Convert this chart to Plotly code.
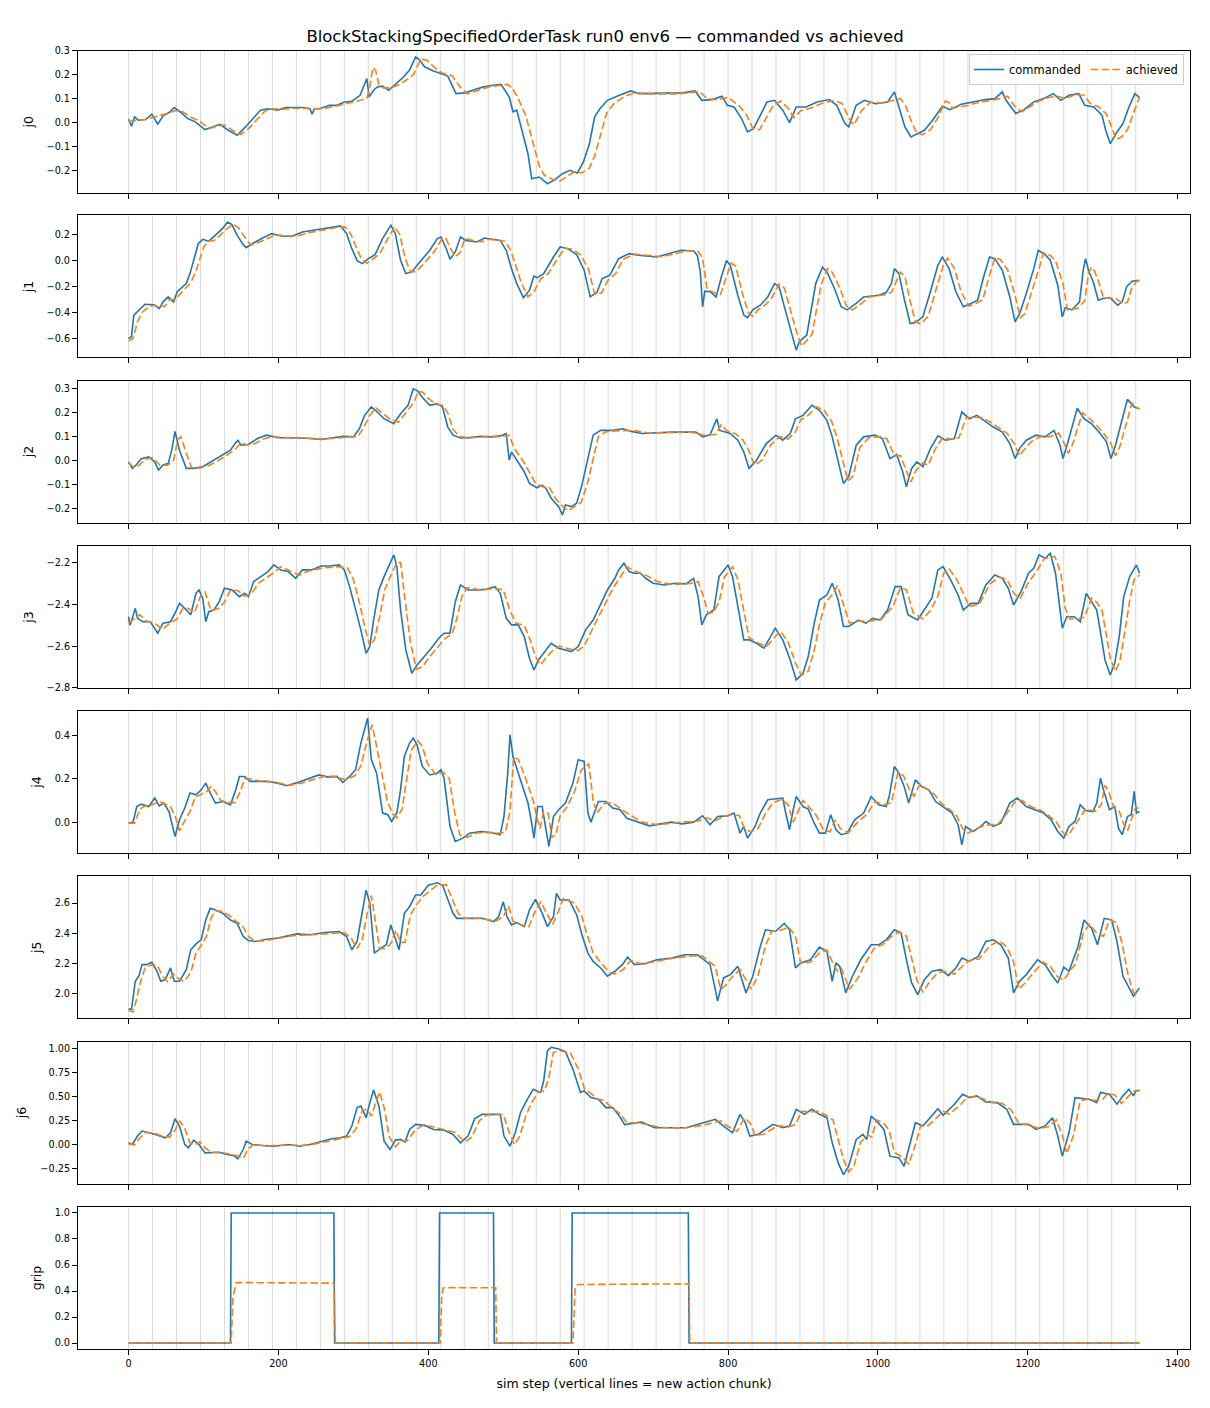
"""
Commanded vs achieved joint trajectories for one rollout.

One panel per joint (j0..j6) plus the gripper, sharing the sim-step axis.
Light vertical lines mark the steps where a new action chunk starts.
"""

import plotly.graph_objects as go
from plotly.subplots import make_subplots

TITLE = "BlockStackingSpecifiedOrderTask run0 env6 — commanded vs achieved"
X_LABEL = "sim step (vertical lines = new action chunk)"
SERIES_NAMES = ["commanded", "achieved"]

# steps where a new action chunk starts
CHUNK_STARTS = [0, 32, 64, 96, 128, 160, 192, 224, 256, 288, 320, 352, 384, 416,
                448, 480, 512, 544, 576, 608, 640, 672, 704, 736, 768, 800, 832,
                864, 896, 928, 960, 992, 1024, 1056, 1088, 1120, 1152, 1184, 1216,
                1248, 1280, 1312, 1344]

X_TICKS = [0, 200, 400, 600, 800, 1000, 1200, 1400]

# (sim step, value)
J0_CMD = [(0, 0.014), (4, -0.015), (8, 0.024), (13, 0.01), (23, 0.013), (31, 0.035), (39, -0.007),
          (46, 0.028), (54, 0.042), (61, 0.063), (69, 0.045), (79, 0.017), (89, 0.003), (102, -0.029),
          (112, -0.018), (122, -0.007), (133, -0.032), (145, -0.053), (156, -0.018), (166, 0.017),
          (176, 0.052), (186, 0.058), (199, 0.052), (209, 0.063), (222, 0.063), (232, 0.063),
          (242, 0.058), (245, 0.035), (248, 0.058), (255, 0.058), (268, 0.072), (278, 0.072),
          (288, 0.086), (298, 0.089), (309, 0.114), (318, 0.184), (321, 0.107), (327, 0.135),
          (332, 0.149), (339, 0.152), (347, 0.135), (357, 0.163), (367, 0.19), (375, 0.219),
          (383, 0.274), (388, 0.263), (395, 0.233), (406, 0.216), (416, 0.205), (426, 0.194),
          (437, 0.121), (449, 0.124), (462, 0.138), (474, 0.149), (487, 0.156), (497, 0.16),
          (508, 0.107), (513, 0.045), (518, 0.052), (525, -0.032), (533, -0.13), (538, -0.234),
          (548, -0.227), (559, -0.255), (569, -0.238), (579, -0.213), (589, -0.199), (599, -0.21),
          (607, -0.164), (615, -0.088), (622, 0.024), (629, 0.058), (639, 0.093), (655, 0.114),
          (670, 0.132), (681, 0.121), (696, 0.121), (712, 0.121), (727, 0.121), (740, 0.124),
          (756, 0.132), (765, 0.093), (779, 0.096), (792, 0.11), (799, 0.072), (808, 0.065),
          (818, 0.017), (826, -0.039), (834, -0.025), (842, 0.024), (852, 0.086), (862, 0.093),
          (873, 0.052), (882, 0.0), (891, 0.065), (904, 0.065), (919, 0.086), (935, 0.096),
          (945, 0.072), (956, -0.004), (961, -0.018), (971, 0.072), (982, 0.093), (997, 0.079),
          (1013, 0.086), (1022, 0.128), (1029, 0.052), (1036, -0.018), (1044, -0.06), (1052, -0.046),
          (1062, -0.032), (1073, 0.01), (1086, 0.068), (1096, 0.054), (1112, 0.077), (1127, 0.086),
          (1143, 0.096), (1156, 0.1), (1166, 0.128), (1171, 0.093), (1184, 0.038), (1195, 0.054),
          (1208, 0.086), (1221, 0.1), (1234, 0.121), (1244, 0.093), (1255, 0.114), (1268, 0.121),
          (1276, 0.072), (1288, 0.065), (1299, 0.031), (1304, -0.032), (1310, -0.088), (1319, -0.039),
          (1327, -0.004), (1335, 0.065), (1343, 0.121), (1349, 0.104)]
J0_ACH = [(0, 0.005), (10, 0.008), (20, 0.012), (30, 0.02), (40, 0.028), (52, 0.038), (62, 0.05),
          (72, 0.045), (85, 0.02), (95, 0.005), (108, -0.025), (118, -0.015), (128, -0.01),
          (140, -0.035), (150, -0.05), (162, -0.02), (172, 0.015), (182, 0.048), (192, 0.058),
          (205, 0.055), (220, 0.06), (240, 0.06), (260, 0.058), (275, 0.068), (290, 0.078),
          (300, 0.085), (312, 0.095), (318, 0.1), (322, 0.15), (326, 0.23), (330, 0.215),
          (334, 0.16), (340, 0.145), (350, 0.145), (362, 0.16), (372, 0.18), (380, 0.2),
          (390, 0.265), (398, 0.26), (410, 0.225), (420, 0.205), (432, 0.195), (442, 0.15),
          (452, 0.12), (465, 0.133), (480, 0.148), (495, 0.155), (505, 0.16), (512, 0.145),
          (520, 0.1), (530, 0.03), (540, -0.09), (548, -0.18), (555, -0.22), (565, -0.235),
          (575, -0.245), (585, -0.225), (595, -0.205), (605, -0.21), (615, -0.19), (622, -0.14),
          (630, -0.05), (638, 0.04), (648, 0.08), (662, 0.11), (677, 0.125), (690, 0.12),
          (705, 0.12), (720, 0.12), (735, 0.12), (750, 0.125), (762, 0.13), (772, 0.1),
          (785, 0.095), (800, 0.105), (806, 0.09), (815, 0.07), (825, 0.03), (833, -0.025),
          (842, -0.03), (850, 0.015), (860, 0.07), (870, 0.09), (880, 0.06), (888, 0.02),
          (897, 0.05), (910, 0.06), (925, 0.08), (942, 0.092), (952, 0.08), (962, 0.015),
          (968, -0.01), (978, 0.05), (990, 0.085), (1005, 0.082), (1018, 0.09), (1030, 0.1),
          (1037, 0.07), (1044, 0.01), (1052, -0.045), (1060, -0.05), (1070, -0.03), (1080, 0.02),
          (1090, 0.09), (1094, 0.085), (1100, 0.06), (1118, 0.07), (1133, 0.083), (1150, 0.092),
          (1163, 0.1), (1173, 0.11), (1182, 0.07), (1192, 0.045), (1202, 0.065), (1215, 0.09),
          (1228, 0.105), (1240, 0.11), (1250, 0.1), (1262, 0.115), (1275, 0.115), (1283, 0.08),
          (1295, 0.065), (1305, 0.035), (1312, -0.02), (1318, -0.07), (1325, -0.06), (1333, -0.03),
          (1341, 0.04), (1349, 0.105)]

J1_CMD = [(0, -0.6), (4, -0.587), (7, -0.42), (12, -0.39), (22, -0.336), (34, -0.34), (41, -0.37),
          (46, -0.318), (53, -0.28), (60, -0.32), (65, -0.24), (77, -0.177), (82, -0.1), (93, 0.13),
          (99, 0.164), (107, 0.149), (116, 0.2), (126, 0.25), (132, 0.297), (138, 0.277), (145, 0.195),
          (153, 0.123), (157, 0.1), (165, 0.13), (179, 0.174), (191, 0.208), (203, 0.19), (218, 0.187),
          (232, 0.22), (252, 0.238), (271, 0.259), (283, 0.267), (291, 0.208), (298, 0.092),
          (305, 0.0), (312, -0.023), (320, 0.015), (329, 0.046), (339, 0.17), (350, 0.272),
          (356, 0.208), (363, 0.0), (370, -0.1), (378, -0.087), (387, -0.023), (402, 0.08),
          (412, 0.17), (417, 0.182), (424, 0.092), (429, 0.01), (436, 0.067), (443, 0.182),
          (450, 0.156), (465, 0.144), (475, 0.174), (484, 0.164), (496, 0.156), (504, 0.08),
          (511, -0.06), (518, -0.177), (527, -0.287), (535, -0.228), (541, -0.118), (545, -0.133),
          (554, -0.1), (567, 0.028), (576, 0.105), (586, 0.092), (598, 0.046), (608, -0.074),
          (616, -0.279), (625, -0.246), (632, -0.138), (642, -0.113), (654, 0.015), (668, 0.054),
          (680, 0.041), (705, 0.028), (729, 0.067), (737, 0.08), (754, 0.074), (759, 0.04),
          (763, -0.087), (766, -0.356), (769, -0.236), (776, -0.24), (784, -0.28), (791, -0.126),
          (798, 0.0), (803, -0.036), (813, -0.267), (821, -0.42), (826, -0.44), (833, -0.38),
          (843, -0.344), (853, -0.28), (862, -0.177), (868, -0.2), (877, -0.395), (885, -0.56),
          (891, -0.69), (895, -0.626), (905, -0.574), (912, -0.344), (917, -0.177), (926, -0.05),
          (932, -0.087), (942, -0.215), (951, -0.356), (959, -0.38), (971, -0.33), (981, -0.28),
          (1001, -0.267), (1011, -0.246), (1018, -0.177), (1022, -0.062), (1028, -0.1),
          (1035, -0.292), (1043, -0.485), (1050, -0.477), (1060, -0.433), (1070, -0.24),
          (1080, -0.036), (1086, 0.028), (1095, -0.062), (1104, -0.24), (1114, -0.356),
          (1124, -0.33), (1133, -0.305), (1141, -0.126), (1149, 0.028), (1156, 0.015),
          (1166, -0.074), (1176, -0.28), (1183, -0.472), (1189, -0.41), (1198, -0.254),
          (1208, -0.062), (1214, 0.08), (1223, 0.046), (1230, 0.003), (1240, -0.19), (1246, -0.433),
          (1250, -0.364), (1259, -0.38), (1269, -0.318), (1274, -0.074), (1277, 0.015),
          (1281, -0.074), (1288, -0.177), (1294, -0.305), (1300, -0.292), (1310, -0.287),
          (1320, -0.344), (1326, -0.318), (1332, -0.2), (1339, -0.159), (1349, -0.151)]
J1_ACH = [(0, -0.62), (6, -0.6), (12, -0.47), (18, -0.4), (28, -0.35), (40, -0.345), (48, -0.355),
          (55, -0.3), (62, -0.3), (72, -0.24), (83, -0.17), (90, -0.08), (100, 0.1), (106, 0.15),
          (114, 0.155), (122, 0.195), (132, 0.25), (140, 0.28), (147, 0.25), (155, 0.18), (163, 0.12),
          (172, 0.135), (185, 0.17), (197, 0.2), (210, 0.19), (225, 0.19), (240, 0.215), (258, 0.235),
          (277, 0.255), (289, 0.26), (297, 0.2), (304, 0.1), (311, 0.01), (318, -0.02), (326, 0.015),
          (335, 0.05), (345, 0.16), (355, 0.26), (362, 0.2), (369, 0.02), (376, -0.085),
          (384, -0.085), (393, -0.03), (408, 0.07), (418, 0.165), (423, 0.175), (430, 0.09),
          (436, 0.03), (442, 0.06), (449, 0.17), (456, 0.16), (471, 0.145), (481, 0.165), (490, 0.16),
          (502, 0.15), (510, 0.08), (517, -0.05), (524, -0.17), (533, -0.28), (541, -0.24),
          (550, -0.14), (560, -0.1), (573, 0.02), (582, 0.095), (592, 0.09), (604, 0.04),
          (614, -0.07), (622, -0.26), (631, -0.25), (640, -0.15), (650, -0.1), (660, 0.01),
          (675, 0.05), (690, 0.04), (712, 0.03), (735, 0.06), (745, 0.075), (760, 0.07), (766, 0.02),
          (772, -0.22), (782, -0.25), (790, -0.26), (798, -0.13), (804, -0.02), (810, -0.04),
          (819, -0.25), (827, -0.4), (833, -0.43), (840, -0.38), (850, -0.34), (859, -0.28),
          (868, -0.18), (875, -0.21), (883, -0.38), (891, -0.54), (898, -0.66), (903, -0.63),
          (912, -0.57), (919, -0.35), (924, -0.19), (933, -0.06), (939, -0.09), (949, -0.21),
          (958, -0.35), (966, -0.38), (978, -0.33), (988, -0.28), (1008, -0.265), (1018, -0.245),
          (1025, -0.16), (1030, -0.09), (1036, -0.12), (1042, -0.29), (1050, -0.47), (1057, -0.49),
          (1067, -0.43), (1077, -0.24), (1087, -0.04), (1093, 0.02), (1102, -0.06), (1111, -0.24),
          (1121, -0.35), (1131, -0.33), (1140, -0.3), (1148, -0.13), (1156, 0.02), (1163, 0.01),
          (1173, -0.07), (1183, -0.27), (1190, -0.44), (1196, -0.41), (1205, -0.25), (1215, -0.06),
          (1221, 0.06), (1230, 0.04), (1237, 0.0), (1247, -0.18), (1253, -0.38), (1258, -0.37),
          (1266, -0.37), (1276, -0.31), (1281, -0.1), (1285, -0.05), (1289, -0.08), (1295, -0.17),
          (1301, -0.29), (1307, -0.29), (1317, -0.29), (1327, -0.335), (1333, -0.32), (1339, -0.21),
          (1345, -0.16), (1349, -0.155)]

J2_CMD = [(0, -0.006), (5, -0.033), (10, -0.019), (17, 0.008), (27, 0.015), (35, -0.006), (40, -0.04),
          (46, -0.019), (53, -0.013), (58, 0.05), (62, 0.122), (68, 0.043), (77, -0.033), (87, -0.033),
          (99, -0.026), (111, -0.003), (123, 0.019), (136, 0.043), (143, 0.075), (146, 0.085),
          (150, 0.064), (160, 0.067), (172, 0.092), (184, 0.106), (199, 0.096), (213, 0.096),
          (228, 0.094), (242, 0.092), (257, 0.088), (271, 0.094), (286, 0.101), (300, 0.099),
          (308, 0.133), (315, 0.189), (324, 0.224), (332, 0.203), (341, 0.175), (354, 0.154),
          (363, 0.196), (373, 0.231), (380, 0.3), (385, 0.293), (392, 0.265), (402, 0.231),
          (412, 0.238), (419, 0.224), (426, 0.14), (433, 0.106), (443, 0.094), (455, 0.096),
          (470, 0.101), (484, 0.099), (496, 0.103), (504, 0.113), (508, 0.001), (511, 0.036),
          (520, -0.006), (528, -0.047), (535, -0.096), (545, -0.114), (552, -0.103), (557, -0.117),
          (564, -0.158), (574, -0.193), (579, -0.228), (583, -0.186), (591, -0.193), (598, -0.179),
          (605, -0.103), (613, 0.008), (620, 0.106), (630, 0.126), (644, 0.126), (659, 0.133),
          (671, 0.122), (685, 0.113), (705, 0.117), (725, 0.119), (744, 0.119), (757, 0.119),
          (766, 0.099), (776, 0.108), (785, 0.175), (789, 0.126), (803, 0.113), (813, 0.085),
          (821, 0.036), (828, -0.033), (838, 0.001), (851, 0.071), (864, 0.106), (873, 0.085),
          (883, 0.113), (890, 0.175), (900, 0.189), (912, 0.231), (922, 0.21), (932, 0.168),
          (939, 0.099), (947, -0.006), (954, -0.096), (961, -0.068), (971, 0.064), (981, 0.099),
          (996, 0.106), (1006, 0.092), (1016, 0.008), (1025, 0.025), (1033, -0.047), (1038, -0.11),
          (1045, -0.033), (1052, -0.006), (1060, -0.026), (1070, 0.05), (1080, 0.103), (1090, 0.085),
          (1102, 0.092), (1112, 0.203), (1122, 0.175), (1132, 0.189), (1141, 0.168), (1154, 0.14),
          (1166, 0.119), (1176, 0.071), (1183, 0.008), (1189, 0.05), (1198, 0.085), (1211, 0.106),
          (1223, 0.099), (1235, 0.126), (1243, 0.064), (1247, 0.008), (1253, 0.071), (1260, 0.147),
          (1266, 0.219), (1275, 0.175), (1285, 0.154), (1295, 0.119), (1305, 0.078), (1311, 0.008),
          (1317, 0.064), (1325, 0.161), (1333, 0.256), (1342, 0.224), (1349, 0.217)]
J2_ACH = [(0, -0.01), (7, -0.03), (14, -0.02), (22, 0.005), (32, 0.012), (42, -0.02), (52, -0.02),
          (60, 0.0), (66, 0.09), (70, 0.1), (76, 0.04), (84, -0.03), (95, -0.032), (108, -0.02),
          (120, 0.0), (130, 0.02), (142, 0.045), (150, 0.075), (158, 0.065), (168, 0.07), (180, 0.09),
          (192, 0.1), (210, 0.096), (235, 0.094), (260, 0.09), (280, 0.094), (295, 0.1), (306, 0.1),
          (314, 0.14), (322, 0.19), (330, 0.22), (338, 0.2), (348, 0.175), (360, 0.16), (370, 0.2),
          (380, 0.24), (387, 0.29), (393, 0.285), (400, 0.26), (410, 0.235), (420, 0.23), (426, 0.2),
          (433, 0.13), (442, 0.1), (455, 0.095), (475, 0.1), (495, 0.1), (508, 0.105), (515, 0.05),
          (522, 0.02), (528, -0.01), (535, -0.05), (543, -0.095), (552, -0.11), (562, -0.115),
          (570, -0.16), (580, -0.195), (587, -0.21), (596, -0.19), (604, -0.175), (612, -0.1),
          (620, 0.0), (627, 0.1), (637, 0.12), (655, 0.125), (675, 0.125), (695, 0.115),
          (720, 0.117), (750, 0.119), (770, 0.105), (784, 0.11), (791, 0.15), (798, 0.125),
          (810, 0.112), (820, 0.085), (828, 0.04), (835, -0.02), (845, 0.0), (857, 0.065),
          (869, 0.1), (880, 0.09), (890, 0.12), (897, 0.17), (907, 0.19), (918, 0.225), (928, 0.21),
          (938, 0.165), (945, 0.1), (953, 0.0), (960, -0.085), (967, -0.065), (976, 0.055),
          (988, 0.095), (1003, 0.1), (1012, 0.09), (1022, 0.02), (1030, 0.02), (1038, -0.04),
          (1044, -0.09), (1051, -0.04), (1060, -0.01), (1067, -0.02), (1076, 0.045), (1086, 0.095),
          (1096, 0.09), (1108, 0.095), (1118, 0.18), (1128, 0.18), (1138, 0.18), (1148, 0.165),
          (1160, 0.14), (1172, 0.115), (1182, 0.07), (1189, 0.02), (1195, 0.045), (1205, 0.08),
          (1217, 0.1), (1230, 0.1), (1241, 0.115), (1249, 0.07), (1254, 0.03), (1260, 0.07),
          (1267, 0.14), (1273, 0.2), (1281, 0.18), (1291, 0.15), (1301, 0.115), (1311, 0.07),
          (1317, 0.02), (1323, 0.06), (1331, 0.15), (1339, 0.24), (1346, 0.22), (1349, 0.215)]

J3_CMD = [(0, -2.459), (2, -2.5), (5, -2.467), (9, -2.419), (12, -2.467), (19, -2.483), (29, -2.483),
          (39, -2.538), (46, -2.49), (56, -2.483), (63, -2.435), (68, -2.395), (75, -2.419),
          (83, -2.45), (90, -2.347), (94, -2.331), (99, -2.371), (103, -2.483), (107, -2.435),
          (114, -2.427), (121, -2.387), (128, -2.323), (138, -2.331), (148, -2.363), (155, -2.347),
          (160, -2.363), (167, -2.291), (177, -2.267), (186, -2.243), (194, -2.211), (203, -2.235),
          (213, -2.243), (223, -2.275), (232, -2.235), (244, -2.235), (257, -2.216), (269, -2.216),
          (281, -2.211), (288, -2.235), (295, -2.315), (302, -2.411), (310, -2.522), (317, -2.634),
          (322, -2.602), (327, -2.475), (334, -2.331), (341, -2.267), (349, -2.203), (354, -2.163),
          (358, -2.219), (363, -2.427), (370, -2.618), (378, -2.73), (385, -2.69), (395, -2.65),
          (404, -2.61), (414, -2.562), (421, -2.538), (429, -2.538), (436, -2.387), (443, -2.307),
          (453, -2.331), (465, -2.331), (477, -2.328), (489, -2.315), (496, -2.347), (504, -2.467),
          (511, -2.498), (520, -2.498), (528, -2.554), (535, -2.658), (541, -2.714), (547, -2.666),
          (557, -2.618), (564, -2.586), (574, -2.61), (583, -2.618), (591, -2.626), (600, -2.602),
          (610, -2.522), (620, -2.475), (630, -2.395), (639, -2.331), (649, -2.275), (654, -2.235),
          (661, -2.203), (668, -2.243), (675, -2.251), (683, -2.251), (690, -2.275), (700, -2.299),
          (715, -2.307), (729, -2.299), (744, -2.302), (754, -2.275), (760, -2.363), (765, -2.498),
          (771, -2.45), (781, -2.427), (788, -2.267), (800, -2.211), (806, -2.267), (813, -2.411),
          (821, -2.57), (828, -2.57), (838, -2.586), (848, -2.61), (858, -2.546), (863, -2.514),
          (873, -2.57), (883, -2.666), (891, -2.762), (900, -2.73), (907, -2.65), (915, -2.49),
          (922, -2.379), (932, -2.355), (939, -2.299), (947, -2.379), (954, -2.506), (961, -2.506),
          (974, -2.475), (984, -2.49), (993, -2.467), (1003, -2.475), (1013, -2.427), (1023, -2.315),
          (1031, -2.315), (1040, -2.45), (1053, -2.475), (1062, -2.427), (1072, -2.371),
          (1080, -2.235), (1087, -2.219), (1097, -2.283), (1107, -2.355), (1114, -2.427),
          (1124, -2.395), (1134, -2.395), (1144, -2.307), (1156, -2.259), (1166, -2.275),
          (1174, -2.323), (1181, -2.403), (1191, -2.339), (1201, -2.251), (1208, -2.227),
          (1215, -2.163), (1223, -2.179), (1230, -2.155), (1237, -2.251), (1242, -2.411),
          (1246, -2.514), (1252, -2.459), (1262, -2.459), (1270, -2.483), (1278, -2.347),
          (1285, -2.387), (1292, -2.427), (1298, -2.554), (1303, -2.666), (1310, -2.738),
          (1316, -2.682), (1322, -2.554), (1328, -2.363), (1336, -2.267), (1341, -2.235),
          (1345, -2.211), (1349, -2.251)]
J3_ACH = [(0, -2.49), (8, -2.47), (15, -2.45), (24, -2.48), (35, -2.49), (45, -2.52), (55, -2.49),
          (65, -2.47), (72, -2.42), (80, -2.42), (88, -2.44), (96, -2.36), (102, -2.34), (110, -2.43),
          (120, -2.42), (128, -2.39), (136, -2.33), (146, -2.335), (155, -2.36), (164, -2.35),
          (173, -2.3), (185, -2.27), (195, -2.245), (203, -2.22), (215, -2.24), (228, -2.26),
          (240, -2.24), (260, -2.225), (280, -2.22), (292, -2.225), (300, -2.28), (308, -2.39),
          (316, -2.52), (322, -2.6), (328, -2.57), (335, -2.46), (342, -2.33), (350, -2.26),
          (358, -2.2), (363, -2.2), (368, -2.35), (376, -2.58), (384, -2.71), (392, -2.7),
          (402, -2.65), (412, -2.61), (422, -2.565), (432, -2.54), (438, -2.47), (445, -2.36),
          (452, -2.32), (470, -2.33), (490, -2.325), (500, -2.33), (509, -2.43), (517, -2.49),
          (528, -2.5), (536, -2.57), (543, -2.65), (550, -2.69), (556, -2.66), (566, -2.62),
          (575, -2.6), (590, -2.615), (600, -2.62), (608, -2.6), (617, -2.53), (627, -2.46),
          (637, -2.39), (647, -2.32), (656, -2.27), (665, -2.22), (675, -2.24), (690, -2.26),
          (705, -2.29), (725, -2.305), (750, -2.3), (760, -2.29), (767, -2.36), (773, -2.44),
          (780, -2.44), (788, -2.39), (795, -2.27), (806, -2.22), (813, -2.28), (820, -2.42),
          (828, -2.56), (840, -2.585), (852, -2.6), (864, -2.55), (870, -2.53), (880, -2.58),
          (890, -2.68), (898, -2.74), (907, -2.72), (915, -2.62), (923, -2.48), (930, -2.39),
          (940, -2.35), (946, -2.31), (953, -2.39), (962, -2.49), (975, -2.48), (990, -2.48),
          (1005, -2.47), (1020, -2.41), (1030, -2.32), (1038, -2.33), (1047, -2.44), (1060, -2.47),
          (1070, -2.43), (1080, -2.36), (1088, -2.25), (1095, -2.23), (1105, -2.28), (1114, -2.35),
          (1122, -2.41), (1135, -2.4), (1150, -2.3), (1162, -2.27), (1172, -2.28), (1182, -2.35),
          (1190, -2.37), (1200, -2.3), (1212, -2.24), (1222, -2.18), (1236, -2.17), (1244, -2.25),
          (1250, -2.42), (1256, -2.47), (1268, -2.47), (1276, -2.46), (1285, -2.37), (1292, -2.39),
          (1299, -2.43), (1305, -2.55), (1310, -2.66), (1317, -2.72), (1323, -2.67), (1330, -2.52),
          (1336, -2.38), (1342, -2.28), (1349, -2.26)]

J4_CMD = [(0, -0.005), (6, 0.0), (11, 0.072), (17, 0.083), (27, 0.072), (35, 0.111), (41, 0.075),
          (47, 0.088), (54, 0.049), (62, -0.066), (68, 0.011), (75, 0.065), (82, 0.134), (90, 0.126),
          (97, 0.149), (103, 0.18), (109, 0.134), (116, 0.088), (126, 0.095), (136, 0.08),
          (143, 0.149), (148, 0.211), (155, 0.211), (162, 0.188), (174, 0.188), (186, 0.188),
          (199, 0.18), (211, 0.168), (223, 0.18), (237, 0.198), (254, 0.218), (266, 0.208),
          (278, 0.211), (286, 0.183), (295, 0.211), (303, 0.242), (310, 0.365), (319, 0.48),
          (324, 0.288), (331, 0.226), (339, 0.042), (346, 0.034), (351, 0.003), (358, 0.042),
          (363, 0.149), (368, 0.303), (375, 0.365), (380, 0.388), (385, 0.357), (392, 0.257),
          (402, 0.218), (412, 0.226), (417, 0.242), (421, 0.203), (429, -0.02), (436, -0.089),
          (446, -0.074), (455, -0.051), (470, -0.043), (484, -0.048), (496, -0.058), (501, 0.026),
          (506, 0.226), (509, 0.403), (513, 0.303), (523, 0.195), (533, 0.088), (538, -0.005),
          (541, -0.074), (546, 0.072), (552, 0.072), (557, -0.035), (561, -0.112), (567, 0.026),
          (574, 0.057), (583, 0.088), (593, 0.18), (600, 0.288), (608, 0.28), (613, 0.042),
          (617, 0.0), (627, 0.095), (637, 0.095), (646, 0.065), (656, 0.057), (665, 0.018),
          (680, 0.0), (695, -0.017), (710, -0.008), (725, 0.0), (739, -0.008), (754, 0.0),
          (766, 0.029), (776, -0.012), (786, 0.026), (799, 0.029), (808, 0.042), (816, -0.051),
          (821, -0.02), (826, -0.074), (836, -0.02), (843, 0.042), (853, 0.103), (863, 0.106),
          (873, 0.111), (877, 0.042), (882, -0.035), (887, 0.057), (891, 0.118), (900, 0.072),
          (907, 0.06), (915, -0.005), (922, -0.051), (930, -0.051), (937, 0.034), (944, -0.035),
          (951, -0.058), (959, -0.051), (969, 0.011), (981, 0.042), (991, 0.118), (1001, 0.08),
          (1011, 0.072), (1015, 0.118), (1022, 0.257), (1028, 0.226), (1035, 0.165), (1041, 0.088),
          (1050, 0.195), (1058, 0.165), (1068, 0.149), (1077, 0.095), (1087, 0.072), (1099, 0.042),
          (1107, -0.012), (1112, -0.105), (1117, -0.02), (1127, -0.043), (1137, -0.02), (1144, 0.003),
          (1154, -0.02), (1164, -0.005), (1176, 0.088), (1186, 0.111), (1198, 0.072), (1211, 0.057),
          (1221, 0.042), (1231, 0.011), (1240, -0.043), (1248, -0.074), (1255, -0.02), (1263, 0.003),
          (1270, 0.08), (1277, 0.054), (1287, 0.049), (1292, 0.088), (1297, 0.203), (1301, 0.149),
          (1309, 0.057), (1316, 0.072), (1321, -0.028), (1326, -0.058), (1333, 0.026), (1338, 0.034),
          (1342, 0.142), (1345, 0.042), (1349, 0.049)]
J4_ACH = [(0, -0.005), (8, -0.005), (15, 0.06), (22, 0.075), (32, 0.08), (40, 0.095), (48, 0.085),
          (56, 0.07), (62, 0.03), (68, -0.04), (74, 0.0), (82, 0.05), (89, 0.115), (97, 0.13),
          (104, 0.14), (110, 0.165), (116, 0.14), (123, 0.1), (133, 0.09), (142, 0.09), (149, 0.14),
          (155, 0.2), (162, 0.2), (175, 0.19), (195, 0.185), (215, 0.17), (230, 0.18), (245, 0.195),
          (262, 0.212), (275, 0.21), (290, 0.195), (302, 0.215), (310, 0.26), (318, 0.37),
          (325, 0.45), (331, 0.35), (337, 0.24), (345, 0.1), (352, 0.04), (358, 0.02), (365, 0.06),
          (371, 0.2), (377, 0.33), (386, 0.375), (392, 0.35), (399, 0.27), (410, 0.22), (420, 0.23),
          (428, 0.2), (435, 0.05), (442, -0.06), (452, -0.07), (465, -0.05), (480, -0.048),
          (495, -0.052), (503, -0.045), (509, 0.05), (514, 0.3), (520, 0.29), (530, 0.2), (540, 0.1),
          (545, 0.02), (549, -0.03), (554, 0.05), (560, 0.04), (565, -0.07), (570, -0.06),
          (576, 0.03), (585, 0.07), (595, 0.14), (604, 0.24), (614, 0.27), (620, 0.1), (625, 0.04),
          (634, 0.085), (645, 0.09), (655, 0.065), (668, 0.035), (685, 0.0), (705, -0.012),
          (730, -0.003), (760, 0.005), (772, 0.02), (782, 0.005), (793, 0.025), (806, 0.035),
          (815, 0.03), (822, -0.03), (830, -0.045), (840, -0.03), (850, 0.04), (860, 0.09),
          (872, 0.105), (880, 0.08), (887, 0.0), (893, 0.05), (900, 0.1), (908, 0.07), (918, 0.03),
          (927, -0.035), (936, -0.045), (943, 0.01), (950, -0.03), (960, -0.05), (973, 0.0),
          (985, 0.035), (996, 0.095), (1008, 0.08), (1018, 0.09), (1027, 0.23), (1034, 0.215),
          (1042, 0.15), (1048, 0.12), (1056, 0.175), (1065, 0.155), (1075, 0.13), (1085, 0.085),
          (1095, 0.06), (1105, 0.03), (1113, -0.03), (1120, -0.05), (1130, -0.035), (1142, -0.015),
          (1160, -0.01), (1170, 0.03), (1182, 0.09), (1192, 0.1), (1205, 0.07), (1217, 0.055),
          (1228, 0.03), (1238, 0.0), (1247, -0.05), (1254, -0.06), (1262, -0.02), (1270, 0.02),
          (1277, 0.06), (1290, 0.05), (1298, 0.08), (1303, 0.17), (1308, 0.14), (1315, 0.065),
          (1322, 0.05), (1328, -0.01), (1333, -0.04), (1339, 0.02), (1344, 0.07), (1349, 0.06)]

J5_CMD = [(0, 1.901), (4, 1.897), (9, 2.083), (14, 2.12), (18, 2.193), (24, 2.193), (31, 2.208),
          (38, 2.149), (43, 2.083), (49, 2.094), (56, 2.171), (61, 2.083), (68, 2.083), (77, 2.16),
          (83, 2.291), (91, 2.335), (97, 2.357), (103, 2.488), (109, 2.565), (116, 2.554),
          (126, 2.532), (136, 2.488), (145, 2.466), (153, 2.379), (160, 2.352), (169, 2.346),
          (184, 2.361), (199, 2.368), (213, 2.383), (225, 2.396), (242, 2.39), (262, 2.405),
          (281, 2.412), (291, 2.379), (298, 2.291), (305, 2.346), (310, 2.488), (317, 2.685),
          (322, 2.598), (328, 2.269), (337, 2.302), (344, 2.324), (350, 2.455), (356, 2.368),
          (361, 2.291), (368, 2.532), (375, 2.576), (383, 2.653), (390, 2.653), (400, 2.718),
          (412, 2.734), (419, 2.718), (426, 2.62), (433, 2.532), (438, 2.499), (448, 2.499),
          (460, 2.499), (472, 2.499), (487, 2.477), (494, 2.51), (500, 2.609), (505, 2.51),
          (511, 2.455), (518, 2.471), (528, 2.444), (535, 2.554), (543, 2.624), (552, 2.532),
          (559, 2.444), (567, 2.51), (571, 2.664), (576, 2.62), (588, 2.62), (598, 2.521),
          (605, 2.39), (613, 2.269), (620, 2.214), (630, 2.171), (639, 2.116), (649, 2.149),
          (659, 2.193), (666, 2.243), (675, 2.193), (690, 2.2), (705, 2.225), (725, 2.236),
          (742, 2.258), (759, 2.258), (769, 2.221), (776, 2.193), (783, 2.028), (786, 1.952),
          (794, 2.105), (803, 2.127), (813, 2.182), (818, 2.105), (824, 2.006), (833, 2.116),
          (843, 2.313), (850, 2.423), (863, 2.412), (875, 2.466), (882, 2.423), (890, 2.171),
          (897, 2.204), (910, 2.225), (922, 2.309), (932, 2.28), (939, 2.083), (944, 2.204),
          (949, 2.182), (957, 2.006), (966, 2.116), (977, 2.225), (986, 2.291), (991, 2.324),
          (1001, 2.324), (1011, 2.357), (1022, 2.423), (1031, 2.401), (1038, 2.225), (1045, 2.072),
          (1053, 1.995), (1062, 2.094), (1072, 2.149), (1084, 2.16), (1094, 2.12), (1104, 2.171),
          (1112, 2.236), (1122, 2.214), (1134, 2.247), (1144, 2.346), (1154, 2.357), (1164, 2.324),
          (1174, 2.236), (1181, 2.006), (1189, 2.083), (1198, 2.127), (1213, 2.225), (1223, 2.193),
          (1233, 2.116), (1240, 2.072), (1248, 2.177), (1255, 2.149), (1267, 2.313), (1275, 2.488),
          (1285, 2.434), (1293, 2.324), (1302, 2.499), (1312, 2.488), (1319, 2.346), (1327, 2.116),
          (1334, 2.05), (1341, 1.984), (1349, 2.039)]
J5_ACH = [(0, 1.89), (6, 1.88), (10, 1.95), (16, 2.08), (22, 2.17), (30, 2.19), (38, 2.19), (45, 2.12),
          (52, 2.08), (60, 2.13), (67, 2.1), (74, 2.08), (83, 2.14), (90, 2.27), (98, 2.33),
          (104, 2.38), (110, 2.5), (116, 2.55), (124, 2.545), (134, 2.52), (143, 2.48), (152, 2.45),
          (160, 2.38), (168, 2.35), (180, 2.35), (200, 2.365), (220, 2.385), (245, 2.39), (270, 2.4),
          (288, 2.405), (297, 2.37), (305, 2.3), (312, 2.36), (318, 2.52), (324, 2.65), (329, 2.5),
          (335, 2.3), (344, 2.3), (351, 2.34), (357, 2.42), (363, 2.34), (369, 2.34), (376, 2.52),
          (383, 2.58), (392, 2.64), (402, 2.68), (412, 2.72), (424, 2.72), (432, 2.63), (440, 2.53),
          (448, 2.5), (470, 2.5), (490, 2.48), (500, 2.51), (507, 2.58), (513, 2.48), (522, 2.46),
          (534, 2.44), (542, 2.54), (550, 2.61), (558, 2.53), (566, 2.46), (574, 2.55), (580, 2.63),
          (595, 2.6), (605, 2.51), (612, 2.39), (620, 2.27), (628, 2.22), (640, 2.15), (648, 2.13),
          (660, 2.16), (670, 2.22), (683, 2.2), (700, 2.21), (720, 2.23), (750, 2.25), (766, 2.25),
          (776, 2.21), (783, 2.18), (790, 2.03), (796, 2.05), (805, 2.11), (816, 2.16), (824, 2.09),
          (831, 2.03), (840, 2.12), (850, 2.32), (858, 2.41), (870, 2.42), (881, 2.44), (890, 2.38),
          (897, 2.2), (910, 2.21), (922, 2.27), (932, 2.29), (940, 2.2), (946, 2.15), (951, 2.17),
          (962, 2.03), (973, 2.1), (985, 2.22), (995, 2.3), (1008, 2.33), (1018, 2.38), (1029, 2.41),
          (1038, 2.38), (1045, 2.24), (1052, 2.09), (1060, 2.01), (1069, 2.08), (1080, 2.14),
          (1092, 2.15), (1102, 2.13), (1112, 2.18), (1122, 2.22), (1135, 2.23), (1150, 2.32),
          (1162, 2.35), (1172, 2.31), (1181, 2.21), (1188, 2.03), (1196, 2.07), (1206, 2.13),
          (1220, 2.21), (1230, 2.18), (1240, 2.11), (1248, 2.09), (1256, 2.15), (1264, 2.2),
          (1274, 2.4), (1282, 2.46), (1292, 2.4), (1301, 2.38), (1309, 2.49), (1318, 2.47),
          (1326, 2.33), (1334, 2.12), (1341, 2.01), (1346, 2.0), (1349, 2.01)]

J6_CMD = [(0, 0.021), (5, 0.003), (12, 0.091), (18, 0.143), (27, 0.125), (36, 0.108), (49, 0.073),
          (56, 0.125), (62, 0.272), (68, 0.195), (75, 0.003), (80, -0.031), (87, 0.049), (94, 0.003),
          (102, -0.084), (111, -0.084), (121, -0.077), (131, -0.101), (140, -0.111), (146, -0.146),
          (153, -0.049), (157, 0.038), (165, 0.003), (179, -0.007), (194, -0.014), (213, 0.003),
          (228, -0.014), (242, 0.003), (257, 0.038), (271, 0.063), (283, 0.073), (291, 0.091),
          (298, 0.195), (305, 0.387), (310, 0.404), (317, 0.282), (322, 0.439), (327, 0.571),
          (334, 0.404), (341, 0.038), (349, -0.049), (356, 0.049), (363, 0.056), (369, 0.028),
          (375, 0.16), (383, 0.213), (395, 0.202), (407, 0.16), (421, 0.153), (433, 0.108),
          (443, 0.021), (453, 0.091), (462, 0.272), (472, 0.317), (484, 0.317), (496, 0.317),
          (501, 0.091), (509, -0.014), (516, 0.125), (523, 0.334), (531, 0.456), (540, 0.578),
          (550, 0.544), (554, 0.666), (559, 0.979), (564, 1.014), (574, 0.997), (583, 0.969),
          (593, 0.787), (603, 0.544), (608, 0.561), (617, 0.491), (627, 0.474), (637, 0.387),
          (646, 0.387), (655, 0.3), (662, 0.21), (671, 0.223), (685, 0.237), (702, 0.178),
          (725, 0.178), (744, 0.178), (760, 0.213), (783, 0.265), (794, 0.195), (806, 0.125),
          (816, 0.317), (823, 0.23), (829, 0.091), (840, 0.108), (860, 0.213), (873, 0.178),
          (882, 0.195), (891, 0.369), (902, 0.317), (912, 0.369), (922, 0.317), (932, 0.282),
          (939, 0.021), (947, -0.188), (954, -0.31), (961, -0.223), (971, 0.056), (980, 0.108),
          (985, 0.056), (991, 0.3), (1001, 0.223), (1008, 0.16), (1016, -0.118), (1028, -0.136),
          (1035, -0.223), (1043, 0.021), (1050, 0.23), (1060, 0.195), (1070, 0.282), (1080, 0.376),
          (1087, 0.307), (1102, 0.422), (1113, 0.526), (1122, 0.491), (1132, 0.509), (1144, 0.446),
          (1159, 0.439), (1172, 0.369), (1181, 0.213), (1191, 0.213), (1201, 0.213), (1211, 0.16),
          (1223, 0.195), (1233, 0.282), (1240, 0.091), (1246, -0.118), (1255, 0.125), (1263, 0.491),
          (1272, 0.481), (1282, 0.474), (1292, 0.439), (1297, 0.544), (1309, 0.526), (1319, 0.422),
          (1327, 0.509), (1335, 0.578), (1341, 0.509), (1344, 0.561), (1349, 0.571)]
J6_ACH = [(0, 0.01), (8, 0.0), (16, 0.08), (24, 0.13), (35, 0.12), (45, 0.09), (55, 0.08), (62, 0.15),
          (68, 0.25), (75, 0.17), (82, 0.02), (88, 0.0), (95, 0.03), (102, -0.03), (110, -0.08),
          (125, -0.08), (137, -0.1), (147, -0.12), (153, -0.14), (160, -0.04), (166, 0.0),
          (185, -0.01), (210, -0.005), (240, -0.005), (262, 0.03), (280, 0.06), (295, 0.085),
          (304, 0.17), (312, 0.36), (318, 0.37), (324, 0.3), (330, 0.44), (335, 0.55), (341, 0.39),
          (348, 0.08), (356, -0.02), (363, 0.04), (372, 0.04), (382, 0.15), (392, 0.2), (405, 0.19),
          (420, 0.16), (435, 0.13), (449, 0.03), (458, 0.08), (468, 0.25), (478, 0.31), (500, 0.315),
          (507, 0.15), (515, 0.0), (522, 0.09), (530, 0.3), (538, 0.44), (547, 0.55), (555, 0.56),
          (561, 0.7), (567, 0.96), (575, 0.98), (590, 0.95), (600, 0.79), (609, 0.57), (616, 0.54),
          (625, 0.48), (635, 0.46), (644, 0.39), (655, 0.33), (665, 0.23), (680, 0.23), (690, 0.215),
          (710, 0.18), (740, 0.175), (765, 0.2), (790, 0.25), (800, 0.19), (812, 0.14), (822, 0.28),
          (830, 0.22), (836, 0.1), (848, 0.11), (866, 0.2), (880, 0.185), (890, 0.21), (898, 0.35),
          (910, 0.34), (920, 0.35), (930, 0.31), (940, 0.26), (947, 0.05), (954, -0.15), (961, -0.28),
          (968, -0.22), (977, 0.03), (987, 0.1), (992, 0.08), (998, 0.26), (1008, 0.22), (1015, 0.15),
          (1022, -0.08), (1033, -0.13), (1041, -0.2), (1050, 0.0), (1057, 0.2), (1067, 0.2),
          (1077, 0.27), (1087, 0.35), (1095, 0.32), (1108, 0.4), (1120, 0.5), (1130, 0.5),
          (1140, 0.48), (1152, 0.44), (1166, 0.43), (1178, 0.36), (1188, 0.22), (1200, 0.21),
          (1215, 0.17), (1228, 0.19), (1238, 0.26), (1246, 0.1), (1252, -0.09), (1261, 0.1),
          (1270, 0.46), (1280, 0.475), (1290, 0.46), (1300, 0.47), (1306, 0.53), (1316, 0.52),
          (1325, 0.43), (1333, 0.49), (1341, 0.56), (1349, 0.56)]

GRIP_CMD = [(0, 0.0), (136, 0.0), (137, 1.0), (274, 1.0), (275, 0.0), (414, 0.0), (415, 1.0),
            (487, 1.0), (488, 0.0), (591, 0.0), (592, 1.0), (747, 1.0), (748, 0.0), (1349, 0.0)]
GRIP_ACH = [(0, 0.0), (137, 0.0), (139, 0.33), (141, 0.4), (144, 0.465), (200, 0.465), (274, 0.46),
            (276, 0.0), (416, 0.0), (418, 0.36), (420, 0.425), (490, 0.425), (491, 0.0), (593, 0.0),
            (596, 0.43), (600, 0.45), (700, 0.452), (748, 0.455), (749, 0.0), (1349, 0.0)]

PANEL_NAMES = ["j0", "j1", "j2", "j3", "j4", "j5", "j6", "grip"]
PANEL_DATA = [(J0_CMD, J0_ACH), (J1_CMD, J1_ACH), (J2_CMD, J2_ACH), (J3_CMD, J3_ACH),
              (J4_CMD, J4_ACH), (J5_CMD, J5_ACH), (J6_CMD, J6_ACH), (GRIP_CMD, GRIP_ACH)]

# axis settings per panel: y range, tick step, tick format
Y_AXES = [
    ([-0.2925, 0.300], 0.1, ".1f"),
    ([-0.746, 0.3485], 0.2, ".1f"),
    ([-0.260, 0.3346], 0.1, ".1f"),
    ([-2.800, -2.120], 0.2, ".1f"),
    ([-0.143, 0.5126], 0.2, ".1f"),
    ([1.838, 2.777], 0.2, ".1f"),
    ([-0.403, 1.073], 0.25, ".2f"),
    ([-0.046, 1.046], 0.2, ".1f"),
]

# figure geometry (pixels); the page body adds an 8px margin around the figure
PAGE_PAD = 8
W, H = 1210 - 2 * PAGE_PAD, 1408 - 2 * PAGE_PAD
M_L, M_R, M_T, M_B = 78 - PAGE_PAD, 20 - PAGE_PAD, 50 - PAGE_PAD, 59 - PAGE_PAD
PANEL_TOPS = [50.7, 215.4, 380.6, 545.9, 711.1, 876.3, 1041.6, 1207.0]  # page coords
PANEL_H = 142.0
X_RANGE = [-67.45, 1416.45]

C_CMD = "#1f77b4"
C_ACH = "#ff7f0e"
FONT = "DejaVu Sans"

n = len(PANEL_NAMES)
fig = make_subplots(rows=n, cols=1, shared_xaxes=True, vertical_spacing=0.01)

plot_h = H - M_T - M_B
plot_bottom = PAGE_PAD + H - M_B  # page y of the bottom of the plotting area
shapes = []
for i, (name, (cmd, ach), (yrange, dtick, fmt)) in enumerate(zip(PANEL_NAMES, PANEL_DATA, Y_AXES)):
    row = i + 1
    fig.add_trace(go.Scatter(
        x=[p[0] for p in cmd], y=[p[1] for p in cmd],
        mode="lines", name=SERIES_NAMES[0], legendgroup="cmd", showlegend=(i == 0),
        line=dict(color=C_CMD, width=1.6),
    ), row=row, col=1)
    fig.add_trace(go.Scatter(
        x=[p[0] for p in ach], y=[p[1] for p in ach],
        mode="lines", name=SERIES_NAMES[1], legendgroup="ach", showlegend=(i == 0),
        line=dict(color=C_ACH, width=1.6, dash="7.5px,3.3px"),
    ), row=row, col=1)

    top = PANEL_TOPS[i]
    dom = [(plot_bottom - (top + PANEL_H)) / plot_h, (plot_bottom - top) / plot_h]
    dom = [max(0.0, dom[0]), min(1.0, dom[1])]
    suffix = "" if row == 1 else str(row)
    fig.layout["yaxis" + suffix].update(
        domain=dom, range=yrange, dtick=dtick, tick0=0, tickformat=fmt,
        title=dict(text=name, font=dict(size=12.5), standoff=10),
        showgrid=False, zeroline=False, showline=True, mirror=True,
        linecolor="black", linewidth=1, ticks="outside", ticklen=5, tickwidth=1,
        tickcolor="black", tickfont=dict(size=9.7),
    )
    fig.layout["xaxis" + suffix].update(
        range=X_RANGE, tickvals=X_TICKS, showgrid=False, zeroline=False,
        showline=True, mirror=True, linecolor="black", linewidth=1,
        ticks="outside", ticklen=5, tickwidth=1, tickcolor="black",
        showticklabels=(row == n), tickfont=dict(size=9.7),
    )

    for s in CHUNK_STARTS:
        shapes.append(dict(
            type="line", xref="x" + suffix, yref="y" + suffix + " domain",
            x0=s, x1=s, y0=0, y1=1, layer="below",
            line=dict(color="rgba(128,128,128,0.3)", width=1),
        ))

fig.layout["xaxis" + str(n)].update(
    title=dict(text=X_LABEL, font=dict(size=12.5), standoff=11),
)

fig.update_layout(
    width=W, height=H,
    margin=dict(l=M_L, r=M_R, t=M_T, b=M_B),
    paper_bgcolor="white", plot_bgcolor="white",
    font=dict(family=FONT, color="black"),
    title=dict(text=TITLE, x=0.5, xref="container", xanchor="center",
               y=1 - (36 - PAGE_PAD) / H, yref="container", yanchor="middle",
               font=dict(size=16.5)),
    shapes=shapes,
    legend=dict(
        orientation="h", x=(1184 - 78) / (W - M_L - M_R), xanchor="right",
        y=(plot_bottom - 54) / plot_h, yanchor="top",
        bgcolor="rgba(255,255,255,0.8)", bordercolor="#cccccc", borderwidth=1,
        font=dict(size=11.5), itemwidth=30, tracegroupgap=0,
    ),
    showlegend=True,
)

fig.write_html("out.html")
